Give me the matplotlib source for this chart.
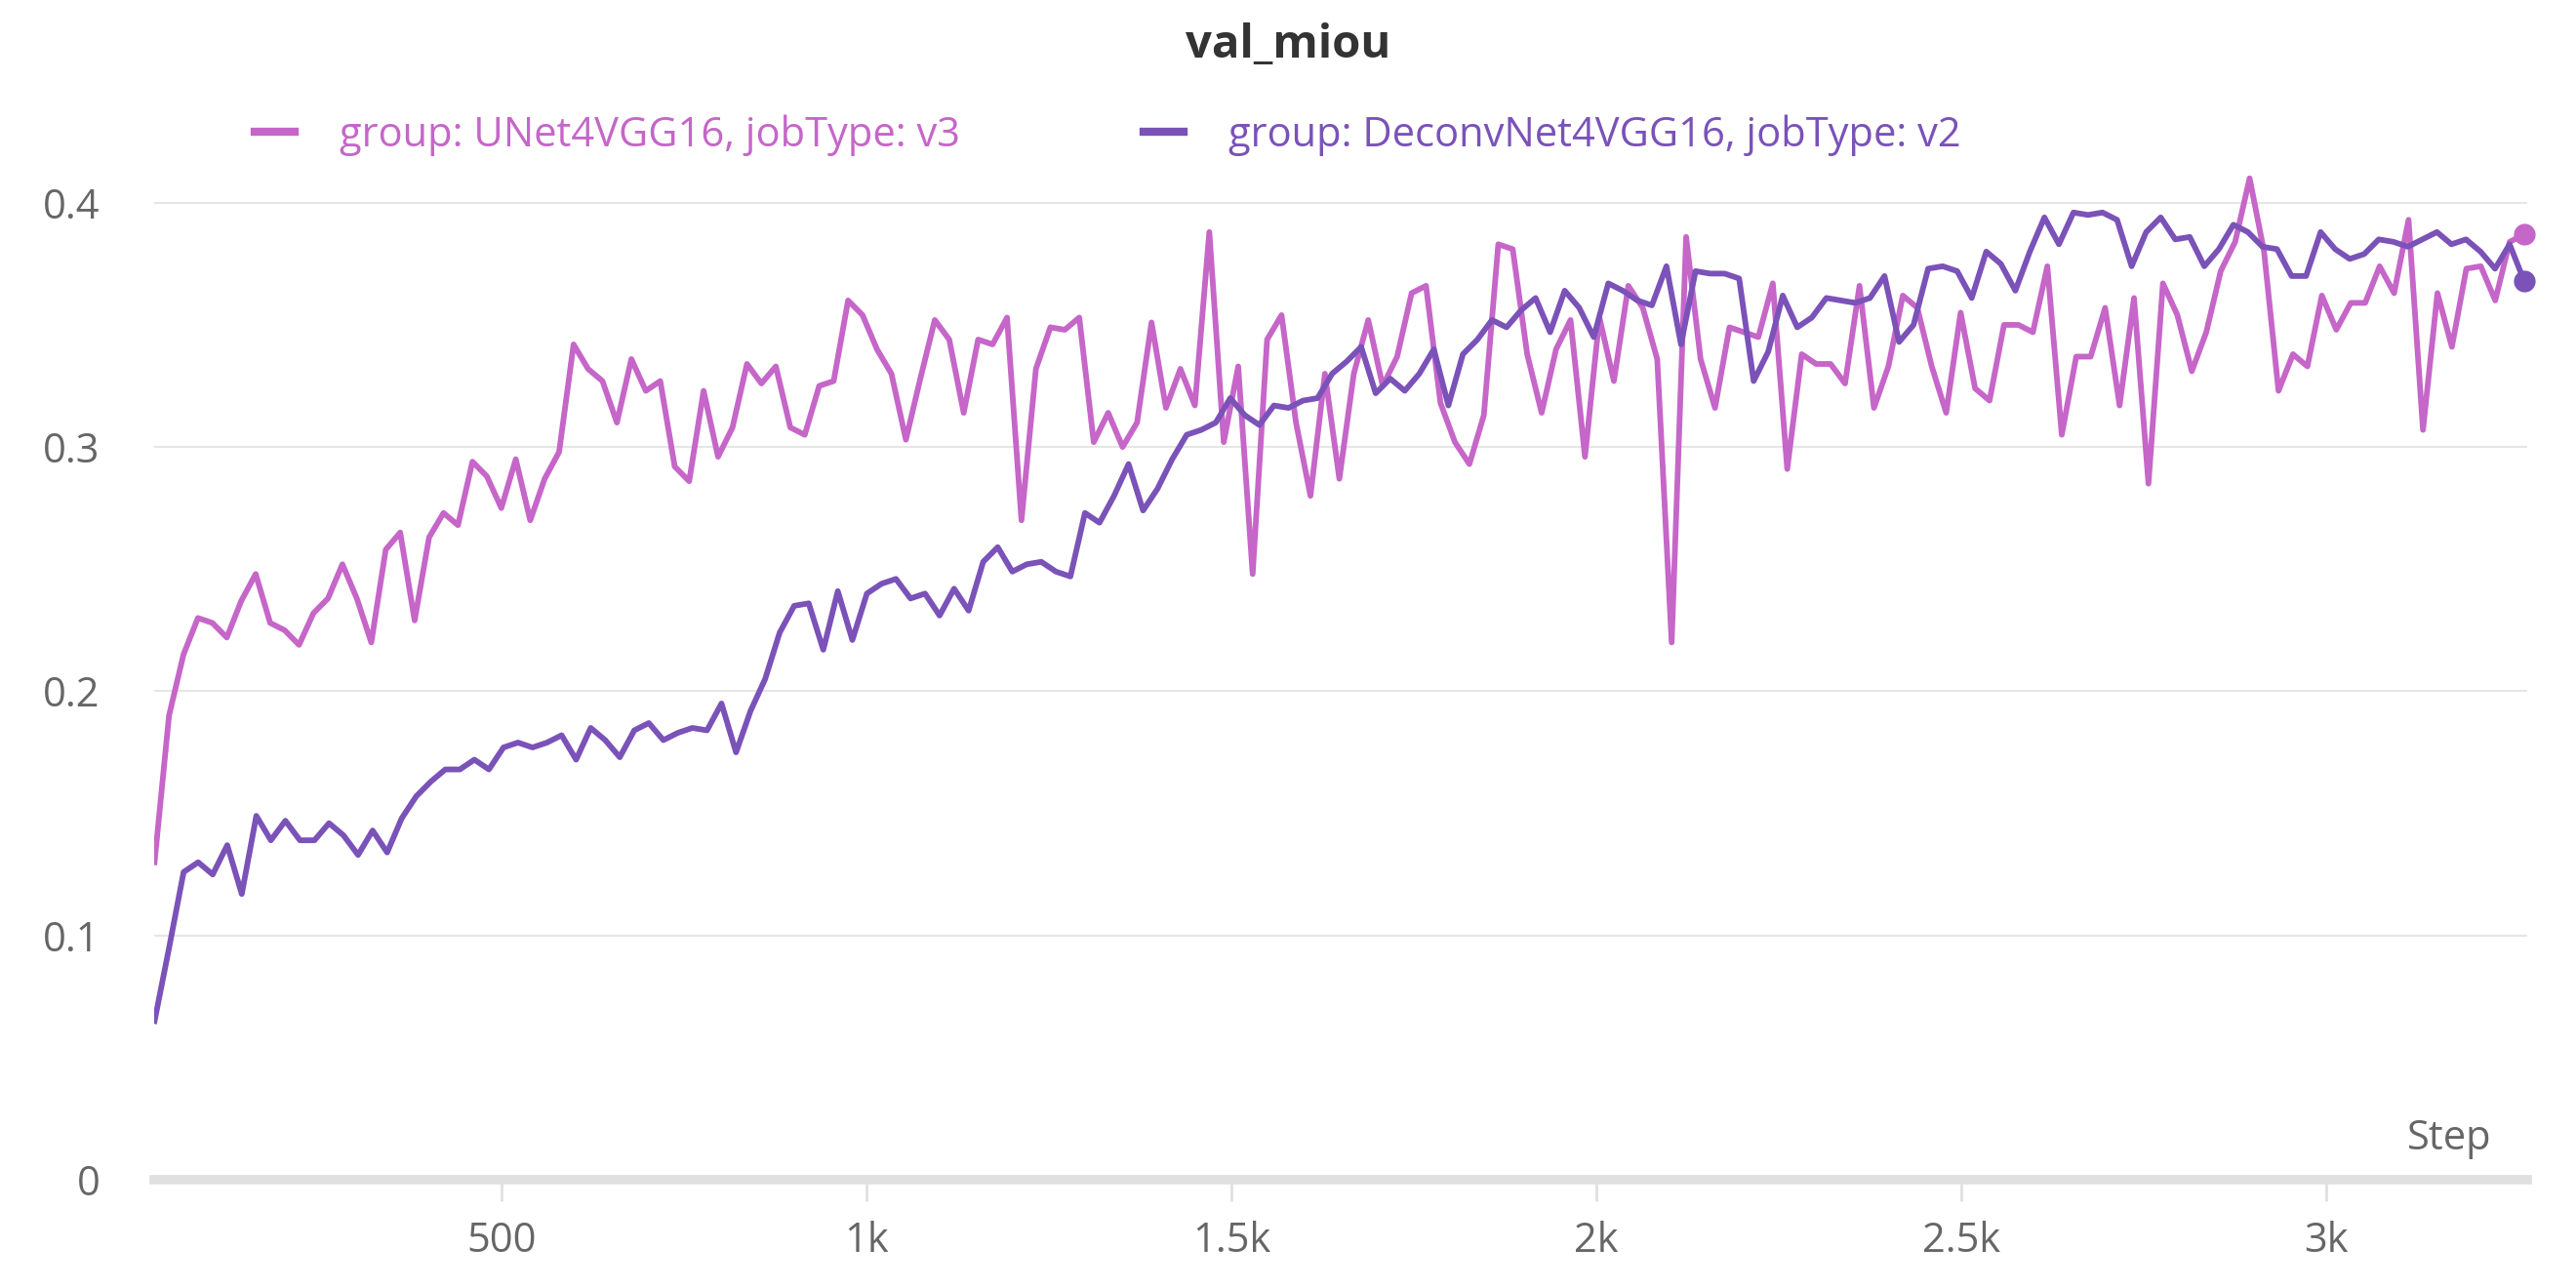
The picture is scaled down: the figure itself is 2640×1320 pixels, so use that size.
import numpy as np
import matplotlib
matplotlib.use("Agg")
import matplotlib.pyplot as plt
from matplotlib.lines import Line2D

plt.rcParams['font.family'] = ['Open Sans', 'Noto Sans', 'DejaVu Sans']

unet = [0.13, 0.19, 0.215, 0.23, 0.228, 0.222, 0.237, 0.248, 0.228, 0.225, 0.219, 0.232, 0.238, 0.252, 0.238, 0.22, 0.258, 0.265, 0.229, 0.263, 0.273, 0.268, 0.294, 0.288, 0.275, 0.295, 0.27, 0.287, 0.298, 0.342, 0.332, 0.327, 0.31, 0.336, 0.323, 0.327, 0.292, 0.286, 0.323, 0.296, 0.308, 0.334, 0.326, 0.333, 0.308, 0.305, 0.325, 0.327, 0.36, 0.354, 0.34, 0.33, 0.303, 0.328, 0.352, 0.344, 0.314, 0.344, 0.342, 0.353, 0.27, 0.332, 0.349, 0.348, 0.353, 0.302, 0.314, 0.3, 0.31, 0.351, 0.316, 0.332, 0.317, 0.388, 0.302, 0.333, 0.248, 0.344, 0.354, 0.31, 0.28, 0.33, 0.287, 0.33, 0.352, 0.325, 0.337, 0.363, 0.366, 0.318, 0.302, 0.293, 0.313, 0.383, 0.381, 0.338, 0.314, 0.34, 0.352, 0.296, 0.353, 0.327, 0.366, 0.357, 0.336, 0.22, 0.386, 0.336, 0.316, 0.349, 0.347, 0.345, 0.367, 0.291, 0.338, 0.334, 0.334, 0.326, 0.366, 0.316, 0.333, 0.362, 0.357, 0.333, 0.314, 0.355, 0.324, 0.319, 0.35, 0.35, 0.347, 0.374, 0.305, 0.337, 0.337, 0.357, 0.317, 0.361, 0.285, 0.367, 0.354, 0.331, 0.347, 0.372, 0.384, 0.41, 0.38, 0.323, 0.338, 0.333, 0.362, 0.348, 0.359, 0.359, 0.374, 0.363, 0.393, 0.307, 0.363, 0.341, 0.373, 0.374, 0.36, 0.384, 0.387]
deconv = [0.065, 0.095, 0.126, 0.13, 0.125, 0.137, 0.117, 0.149, 0.139, 0.147, 0.139, 0.139, 0.146, 0.141, 0.133, 0.143, 0.134, 0.148, 0.157, 0.163, 0.168, 0.168, 0.172, 0.168, 0.177, 0.179, 0.177, 0.179, 0.182, 0.172, 0.185, 0.18, 0.173, 0.184, 0.187, 0.18, 0.183, 0.185, 0.184, 0.195, 0.175, 0.192, 0.205, 0.224, 0.235, 0.236, 0.217, 0.241, 0.221, 0.24, 0.244, 0.246, 0.238, 0.24, 0.231, 0.242, 0.233, 0.253, 0.259, 0.249, 0.252, 0.253, 0.249, 0.247, 0.273, 0.269, 0.28, 0.293, 0.274, 0.283, 0.295, 0.305, 0.307, 0.31, 0.32, 0.313, 0.309, 0.317, 0.316, 0.319, 0.32, 0.33, 0.335, 0.341, 0.322, 0.328, 0.323, 0.33, 0.34, 0.317, 0.338, 0.344, 0.352, 0.349, 0.356, 0.361, 0.347, 0.364, 0.357, 0.345, 0.367, 0.364, 0.36, 0.358, 0.374, 0.342, 0.372, 0.371, 0.371, 0.369, 0.327, 0.339, 0.362, 0.349, 0.353, 0.361, 0.36, 0.359, 0.361, 0.37, 0.343, 0.35, 0.373, 0.374, 0.372, 0.361, 0.38, 0.375, 0.364, 0.38, 0.394, 0.383, 0.396, 0.395, 0.396, 0.393, 0.374, 0.388, 0.394, 0.385, 0.386, 0.374, 0.381, 0.391, 0.388, 0.382, 0.381, 0.37, 0.37, 0.388, 0.381, 0.377, 0.379, 0.385, 0.384, 0.382, 0.385, 0.388, 0.383, 0.385, 0.38, 0.373, 0.383, 0.368]
step_start, step_end = 25, 3271
labels = ["group: UNet4VGG16, jobType: v3", "group: DeconvNet4VGG16, jobType: v2"]
colors = ["#c566c8", "#7a52b8"]
xticks = [500, 1000, 1500, 2000, 2500, 3000]
xticklabels = ["500", "1k", "1.5k", "2k", "2.5k", "3k"]
yticks = [0, 0.1, 0.2, 0.3, 0.4]
yticklabels = ["0", "0.1", "0.2", "0.3", "0.4"]

fig = plt.figure(figsize=(26.4, 13.2), dpi=100)
ax = fig.add_axes([0.06, 0.084, 0.921, 0.806])
for ys, c in [(unet, colors[0]), (deconv, colors[1])]:
    xs = np.linspace(step_start, step_end, len(ys))
    ax.plot(xs, ys, color=c, lw=4.2, solid_joinstyle='round')
    ax.plot([xs[-1]], [ys[-1]], 'o', color=c, ms=15, clip_on=False)
ax.set_xlim(25, 3275)
ax.set_ylim(0, 0.425)
ax.set_yticks(yticks)
ax.set_yticklabels(yticklabels)
ax.set_xticks(xticks)
ax.set_xticklabels(xticklabels)
ax.grid(axis='y', color='#e6e6e6', lw=1.5)
ax.set_axisbelow(True)
for s in ['top', 'right', 'left']:
    ax.spines[s].set_visible(False)
ax.spines['bottom'].set_color('#e0e0e0')
ax.spines['bottom'].set_linewidth(7)
ax.tick_params(axis='y', length=0, labelsize=30, labelcolor='#666666', pad=40)
ax.tick_params(axis='x', length=16, width=2, color='#e0e0e0', labelsize=30, labelcolor='#666666', pad=14, direction='out')
ax.text(0.985, 0.02, "Step", transform=ax.transAxes, ha='right', va='bottom', fontsize=30, color='#666666')
fig.text(0.5, 0.965, "val_miou", ha='center', va='center', fontsize=34, fontweight='bold', color='#333333')
handles = [Line2D([], [], color=c, lw=6) for c in colors]
leg = fig.legend(handles, labels, loc='center', bbox_to_anchor=(0.43, 0.895), ncol=2, frameon=False,
                 fontsize=30, handlelength=1.0, columnspacing=4.5, handletextpad=1.1)
for t, c in zip(leg.get_texts(), colors):
    t.set_color(c)
fig.savefig("out.png", dpi=100, facecolor='white')
